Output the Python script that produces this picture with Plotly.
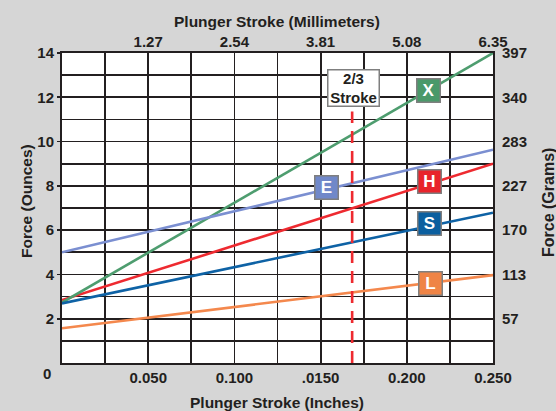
import plotly.graph_objects as go

# ---------------- data ----------------
SPRINGS = ["X", "E", "H", "S", "L"]
STROKE_IN = [0.0, 0.25]                       # stroke endpoints (inches)
FORCE_START_OZ = [2.73, 5.00, 2.84, 2.69, 1.57]
FORCE_END_OZ = [14.0, 9.63, 9.00, 6.79, 3.97]
LINE_COLORS = ["#4e9d6f", "#7b8fd1", "#ee2a30", "#0e62a5", "#f4884d"]
BOX_COLORS = ["#4a996a", "#7088c9", "#e8232b", "#0b5f9f", "#ef8446"]
LABEL_X_IN = [0.2123, 0.1534, 0.2134, 0.2134, 0.2137]
LABEL_Y_OZ = [12.32, 7.91, 8.18, 6.28, 3.61]

MARK_X_IN = 0.1683            # 2/3 stroke marker
MARK_TOP_OZ = 11.36
MARK_BOX_X_IN = 0.1689
MARK_BOX_Y_OZ = 12.44

INCH_TICKS = [0.05, 0.10, 0.15, 0.20, 0.25]
INCH_LABELS = ["0.050", "0.100", ".0150", "0.200", "0.250"]
MM_TICKS = [1.27, 2.54, 3.81, 5.08, 6.35]
MM_LABELS = ["1.27", "2.54", "3.81", "5.08", "6.35"]
OZ_TICKS = [2, 4, 6, 8, 10, 12, 14]
OZ_LABELS = ["2", "4", "6", "8", "10", "12", "14"]
GRAM_LABELS = ["57", "113", "170", "227", "283", "340", "397"]
G_PER_OZ = 28.3495

# ---------------- style ----------------
FONT = "Liberation Sans, Arial, sans-serif"
INK = "#231f20"
BG = "#d6d6d6"
W, H = 556, 411
ML, MR, MT, MB = 62, 63, 53, 48
PW, PH = W - ML - MR, H - MT - MB


def px_x(px):
    return (px - ML) / PW


def px_y(py):
    return (H - MB - py) / PH


fig = go.Figure()

order = [4, 2, 0, 3, 1]
for i in order:
    fig.add_trace(go.Scatter(
        x=STROKE_IN, y=[FORCE_START_OZ[i], FORCE_END_OZ[i]],
        mode="lines", line=dict(color=LINE_COLORS[i], width=2.6),
        name=SPRINGS[i], showlegend=False, hoverinfo="skip"))

fig.add_trace(go.Scatter(
    x=[MARK_X_IN, MARK_X_IN], y=[0, MARK_TOP_OZ], mode="lines",
    line=dict(color="#ee2a30", width=2.6, dash="12px,8px"),
    showlegend=False, hoverinfo="skip"))

# invisible traces to bind secondary axes
fig.add_trace(go.Scatter(x=[0, 6.35], y=[0, 0], xaxis="x2", yaxis="y",
                         mode="lines", line=dict(width=0), opacity=0,
                         showlegend=False, hoverinfo="skip"))
fig.add_trace(go.Scatter(x=[0, 0], y=[0, 14 * G_PER_OZ], xaxis="x", yaxis="y2",
                         mode="lines", line=dict(width=0), opacity=0,
                         showlegend=False, hoverinfo="skip"))

tickfont = dict(family=FONT, size=15, color=INK, weight="bold")
titlefont = dict(family=FONT, size=15.5, color=INK, weight="bold")
gridw = 1.8

fig.update_layout(
    width=W, height=H,
    margin=dict(l=ML, r=MR, t=MT, b=MB, pad=0, autoexpand=False),
    paper_bgcolor=BG, plot_bgcolor="white",
    font=dict(family=FONT, color=INK),
    xaxis=dict(
        range=[0, 0.25], tickvals=INCH_TICKS, ticktext=INCH_LABELS,
        tickfont=tickfont, showgrid=True, gridcolor=INK, gridwidth=gridw,
        minor=dict(dtick=0.025, tick0=0, showgrid=True, gridcolor=INK, gridwidth=gridw),
        showline=True, linecolor=INK, linewidth=2, mirror=True,
        ticks="", ticklabelstandoff=0, zeroline=False, fixedrange=True, automargin=False,
    ),
    xaxis2=dict(
        overlaying="x", side="top", range=[0, 6.35], tickvals=MM_TICKS, ticktext=MM_LABELS,
        tickfont=tickfont, showgrid=False, zeroline=False, ticks="", ticklabelstandoff=2,
        automargin=False,
    ),
    yaxis=dict(
        range=[0, 14], tickvals=OZ_TICKS, ticktext=OZ_LABELS, tickfont=tickfont,
        showgrid=True, gridcolor=INK, gridwidth=gridw,
        minor=dict(dtick=1, tick0=0, showgrid=True, gridcolor=INK, gridwidth=gridw),
        showline=True, linecolor=INK, linewidth=2, mirror=True,
        ticks="outside", ticklen=3, tickwidth=gridw, tickcolor=INK,
        ticklabelstandoff=0, zeroline=False, fixedrange=True, automargin=False,
    ),
    yaxis2=dict(
        overlaying="y", side="right", range=[0, 14 * G_PER_OZ],
        tickvals=[v * G_PER_OZ for v in OZ_TICKS], ticktext=GRAM_LABELS,
        tickfont=tickfont, showgrid=False, zeroline=False, ticks="", ticklabelstandoff=8,
        automargin=False,
    ),
)

# axis titles
fig.add_annotation(text="Plunger Stroke (Millimeters)", xref="paper", yref="paper",
                   x=px_x(277), y=px_y(22), xanchor="center", yanchor="middle",
                   showarrow=False, font=titlefont)
fig.add_annotation(text="Plunger Stroke (Inches)", xref="paper", yref="paper",
                   x=px_x(277), y=px_y(402.5), xanchor="center", yanchor="middle",
                   showarrow=False, font=titlefont)
fig.add_annotation(text="Force (Ounces)", xref="paper", yref="paper",
                   x=px_x(26), y=px_y(201), xanchor="center", yanchor="middle",
                   textangle=-90, showarrow=False, font=titlefont)
fig.add_annotation(text="Force (Grams)", xref="paper", yref="paper",
                   x=px_x(548), y=px_y(203), xanchor="center", yanchor="middle",
                   textangle=-90, showarrow=False, font=dict(titlefont, size=16))

# zero label (offset below the axis corner)
fig.add_annotation(text="0", xref="paper", yref="paper",
                   x=px_x(47), y=px_y(373),
                   xanchor="center", yanchor="middle", showarrow=False, font=tickfont)

# spring label boxes
for i, s in enumerate(SPRINGS):
    fig.add_annotation(
        x=LABEL_X_IN[i], y=LABEL_Y_OZ[i], xref="x", yref="y",
        text=f"<b>{s}</b>", showarrow=False,
        font=dict(family=FONT, size=17, color="white"),
        bgcolor=BOX_COLORS[i], bordercolor="#7f7f7f", borderwidth=1.5,
        borderpad=0, width=22, height=22, align="center", valign="middle")

fig.add_annotation(
    x=MARK_BOX_X_IN, y=MARK_BOX_Y_OZ, xref="x", yref="y",
    text="<b>2/3<br>Stroke</b>", showarrow=False,
    font=dict(family=FONT, size=15, color=INK),
    bgcolor="white", bordercolor="#7f7f7f", borderwidth=1.5,
    borderpad=0, width=50, height=35, align="center", valign="middle")

# clipped title at the very top of the picture (only descenders visible)
fig.add_annotation(text="Spring Force", xref="paper", yref="paper",
                   x=px_x(18), y=px_y(3),
                   xanchor="left", yanchor="bottom", showarrow=False,
                   font=dict(family=FONT, size=26, color=INK, weight="bold"))

fig.write_html(
    "out.html",
    config={"displayModeBar": False, "staticPlot": True},
    post_script="document.body.style.margin='0px';"
                "document.body.style.background='" + BG + "';",
)
